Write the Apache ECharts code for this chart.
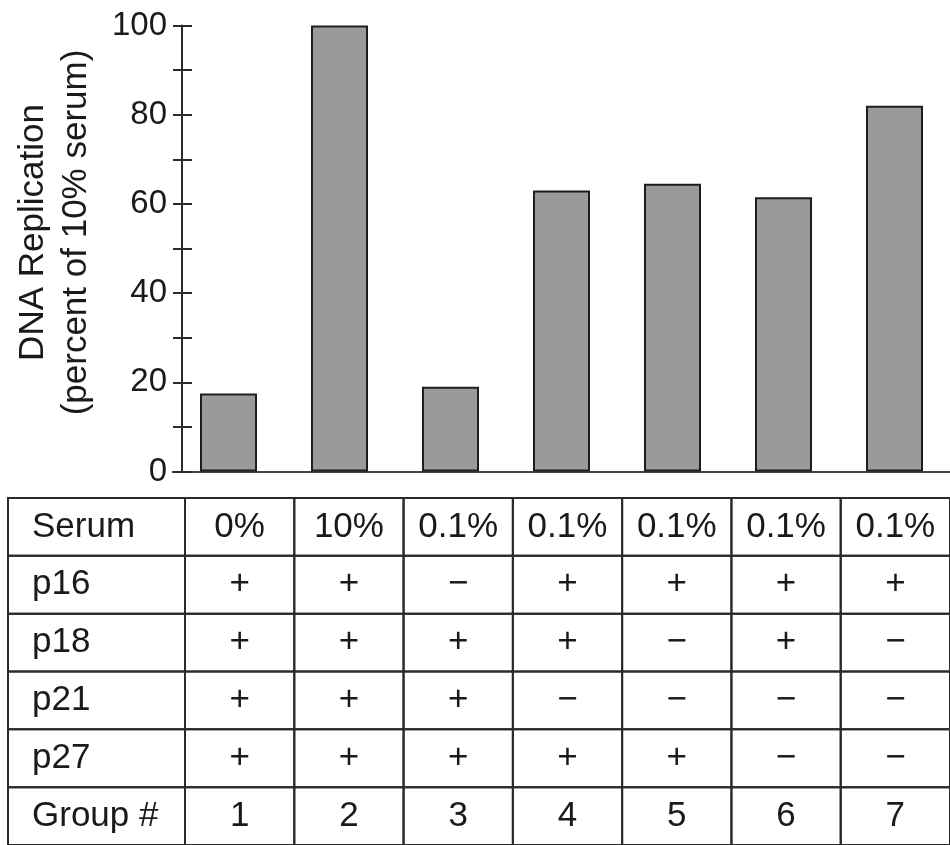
<!DOCTYPE html>
<html>
<head>
<meta charset="utf-8">
<title>DNA replication by serum and CKI condition</title>
<script src="https://cdn.jsdelivr.net/npm/echarts@6/dist/echarts.min.js"></script>
<style>
  html, body { margin: 0; padding: 0; background: #ffffff; }
  #chart { width: 950px; height: 845px; }
</style>
</head>
<body>
<div id="chart"></div>
<script>
// Experimental groups and measured DNA replication (percent of 10% serum)
const groups = ['1', '2', '3', '4', '5', '6', '7'];
const replication = [17.5, 100, 19, 63, 64.5, 61.5, 82];

// Labelled ticks on the value axis (minor ticks every 10)
const yTickLabels = [0, 20, 40, 60, 80, 100];

// Condition table under the bars
const rowNames = ['Serum', 'p16', 'p18', 'p21', 'p27', 'Group #'];
const serum = ['0%', '10%', '0.1%', '0.1%', '0.1%', '0.1%', '0.1%'];
const p16 = ['+', '+', '\u2212', '+', '+', '+', '+'];
const p18 = ['+', '+', '+', '+', '\u2212', '+', '\u2212'];
const p21 = ['+', '+', '+', '\u2212', '\u2212', '\u2212', '\u2212'];
const p27 = ['+', '+', '+', '+', '+', '\u2212', '\u2212'];
const tableRows = [serum, p16, p18, p21, p27, groups];

const FONT = "'Liberation Sans', Arial, Helvetica, sans-serif";
const INK = '#1a1a1a';
const LINE = '#2a2a2a';

// one item per table cell: [column, row]
const cellData = [];
tableRows.forEach((row, r) => row.forEach((_, c) => cellData.push([c, r])));

const HEADER_LEFT = 8;

function renderCell(params, api) {
  const c = api.value(0), r = api.value(1);
  const pt = api.coord([c, r]);
  const size = api.size([1, 1]);
  const w = size[0], h = size[1];
  const x0 = pt[0] - w / 2, y0 = pt[1] - h / 2;
  const children = [
    {
      type: 'rect',
      shape: { x: x0, y: y0, width: w, height: h },
      style: { fill: 'none', stroke: LINE, lineWidth: 2 }
    },
    {
      type: 'text',
      style: {
        x: pt[0], y: pt[1],
        text: tableRows[r][c],
        fill: INK, font: '35px ' + FONT,
        align: 'center', verticalAlign: 'middle'
      }
    }
  ];
  if (c === 0) {
    const left = HEADER_LEFT;
    children.push({
      type: 'rect',
      shape: { x: left, y: y0, width: x0 - left, height: h },
      style: { fill: 'none', stroke: LINE, lineWidth: 2 }
    });
    children.push({
      type: 'text',
      style: {
        x: left + 24, y: pt[1],
        text: rowNames[r],
        fill: INK, font: '35px ' + FONT,
        align: 'left', verticalAlign: 'middle'
      }
    });
  }
  return { type: 'group', children: children };
}

const chart = echarts.init(document.getElementById('chart'), null, { renderer: 'canvas' });

chart.setOption({
  animation: false,
  backgroundColor: '#ffffff',
  textStyle: { fontFamily: FONT },
  grid: [
    { left: 173, right: -6, top: 25.5, bottom: 373.5, containLabel: false },
    { left: 185, right: -8.5, top: 498, bottom: -4, containLabel: false }
  ],
  xAxis: [
    {
      type: 'category', gridIndex: 0, position: 'bottom', data: groups,
      axisLine: { show: true, lineStyle: { color: LINE, width: 2 } },
      axisTick: { show: false }, axisLabel: { show: false }, splitLine: { show: false }
    },
    {
      type: 'category', gridIndex: 0, position: 'top', data: groups,
      axisLine: { show: true, lineStyle: { color: '#444', width: 2 } },
      axisTick: { show: false }, axisLabel: { show: false }, splitLine: { show: false }
    },
    {
      type: 'category', gridIndex: 1, data: groups, show: false
    }
  ],
  yAxis: [
    {
      type: 'value', gridIndex: 0, position: 'left', offset: -9,
      min: 0, max: 100, interval: 10,
      name: 'DNA Replication\n(percent of 10% serum)',
      nameLocation: 'middle', nameRotate: 90, nameGap: 84,
      nameTextStyle: { fontSize: 35, lineHeight: 43, color: INK, fontFamily: FONT, padding: [0, 0, 0, 32] },
      axisLine: { show: true, lineStyle: { color: LINE, width: 2 } },
      axisTick: { show: true, inside: false, length: 9, lineStyle: { color: LINE, width: 2 } },
      axisLabel: {
        show: true, margin: 15, fontSize: 33, color: INK, fontFamily: FONT,
        formatter: v => (yTickLabels.indexOf(v) >= 0 ? String(v) : '')
      },
      splitLine: { show: false }
    },
    {
      type: 'value', gridIndex: 0, position: 'left', offset: -9,
      min: 0, max: 100, interval: 10,
      axisLine: { show: false },
      axisTick: { show: true, inside: true, length: 10, lineStyle: { color: LINE, width: 2 } },
      axisLabel: { show: false }, splitLine: { show: false }
    },
    {
      type: 'category', gridIndex: 1, data: rowNames, inverse: true, show: false
    }
  ],
  series: [
    {
      type: 'bar', xAxisIndex: 0, yAxisIndex: 0,
      data: replication, barWidth: 57,
      itemStyle: { color: '#9a9a9a', borderColor: '#1e1e1e', borderWidth: 2 },
      silent: true
    },
    {
      type: 'custom', xAxisIndex: 2, yAxisIndex: 2,
      data: cellData, renderItem: renderCell, clip: false, silent: true
    }
  ]
});
</script>
</body>
</html>
